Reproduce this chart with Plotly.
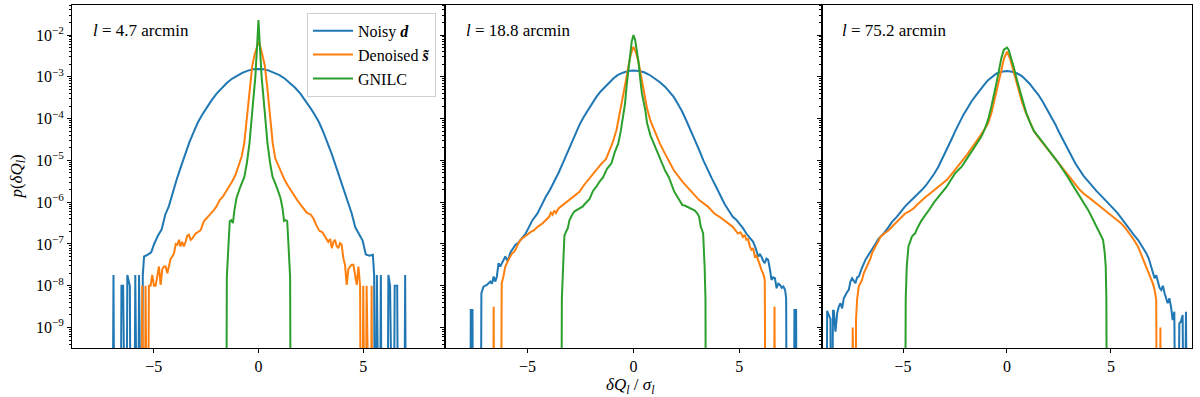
import plotly.graph_objects as go

# Values: x = dQ/sigma, logp = log10 p(dQ). None = empty bin.

PANEL_LABELS = ["4.7", "18.8", "75.2"]
SERIES_NAMES = ["Noisy <b><i>d</i></b>", "Denoised <b><i>s\u0303</i></b>", "GNILC"]
COLORS = ["#1f77b4", "#ff7f0e", "#2ca02c"]

# ---- l = 4.7 arcmin ----
p1_noisy_x = [-6.98, -6.92, -6.86, -6.60, -6.54, -6.46, -6.40, -6.32, -6.26, -6.14, -6.08,
              -5.94, -5.88, -5.82, -5.76, -5.70, -5.64, -5.58, -5.52, -5.46, -5.3, -5.12,
              -4.98, -4.8, -4.62, -4.45, -4.28, -4.12, -3.9, -3.7, -3.5, -3.3, -3.1, -2.9,
              -2.7, -2.5, -2.25, -2.0, -1.75, -1.5, -1.25, -1.0, -0.75, -0.5, -0.25, 0.0,
              0.25, 0.5, 0.75, 1.0, 1.25, 1.5, 1.75, 2.0, 2.25, 2.5, 2.7, 2.9, 3.1, 3.3,
              3.5, 3.7, 3.9, 4.1, 4.28, 4.45, 4.62, 4.8, 4.97, 5.12, 5.3, 5.46, 5.52, 5.56,
              5.60, 5.65, 5.71, 5.78, 5.84, 5.90, 6.14, 6.2, 6.28, 6.34, 6.44, 6.5, 6.62,
              6.68, 6.94, 7.0, 7.06]
p1_noisy_logp = [None, -7.74, None, None, -8.0, -8.0, None, None, -7.74, -8.0, None,
                 None, -7.74, None, None, -7.74, None, None, -7.74, -7.3, -7.26, -7.2,
                 -7.0, -6.8, -6.65, -6.3, -6.1, -5.8, -5.45, -5.15, -4.85, -4.57, -4.33, -4.1,
                 -3.92, -3.76, -3.57, -3.4, -3.26, -3.14, -3.04, -2.96, -2.9, -2.85, -2.82, -2.81,
                 -2.82, -2.85, -2.9, -2.96, -3.04, -3.14, -3.26, -3.4, -3.57, -3.76, -3.92, -4.1,
                 -4.33, -4.57, -4.85, -5.15, -5.45, -5.78, -6.05, -6.27, -6.6, -6.75, -6.92,
                 -7.25, -7.28, -7.26, -7.74, None,
                 None, -7.74, None, None, -7.74, None, None, -7.74, -8.0, None, None, -8.0,
                 -8.0, None, None, -7.74, None]

p1_denoised_x = [-5.60, -5.55, -5.50, -5.44, -5.39, -5.34, -5.29, -5.23, -5.15, -5.07, -4.99,
                 -4.91, -4.83, -4.75, -4.67, -4.59, -4.51, -4.43, -4.35, -4.27, -4.19, -4.11,
                 -4.03, -3.95, -3.87, -3.79, -3.72, -3.64, -3.56, -3.48, -3.4, -3.32, -3.24,
                 -3.16, -3.0, -2.9, -2.76, -2.6, -2.45, -2.3, -2.15, -2.0, -1.85, -1.7, -1.55,
                 -1.4, -1.25, -1.1, -0.92, -0.8, -0.68, -0.6, -0.52, -0.42, -0.3, -0.2, -0.1,
                 0.0, 0.1, 0.2, 0.3, 0.42, 0.52, 0.6, 0.68, 0.8, 0.92, 1.1, 1.25, 1.4, 1.55,
                 1.7, 1.85, 2.0, 2.15, 2.3, 2.5, 2.62, 2.76, 2.9, 3.05, 3.2, 3.33, 3.42, 3.5,
                 3.58, 3.65, 3.73, 3.81, 3.89, 3.97, 4.05, 4.13, 4.21, 4.29, 4.37, 4.45, 4.53,
                 4.61, 4.69, 4.77, 4.85, 4.9, 4.95, 5.0, 5.05, 5.11, 5.16, 5.21, 5.35, 5.4, 5.45]
p1_denoised_logp = [None, -8.0, None, None, -8.0, None, None, -8.0, -8.0, -7.74, -8.0,
                    -8.0, -7.74, -7.54, -7.98, -7.6, -7.54, -7.54, -7.7, -7.5, -7.35, -7.3,
                    -7.22, -7.0, -7.02, -6.9, -7.06, -6.95, -7.06, -6.95, -6.8, -6.78, -6.9,
                    -6.87, -6.75, -6.72, -6.67, -6.45, -6.37, -6.3, -6.2, -6.1, -5.95, -5.87,
                    -5.75, -5.62, -5.5, -5.35, -5.1, -4.9, -4.59, -4.2, -3.79, -3.3, -2.75,
                    -2.5, -2.3, -2.16, -2.3, -2.5, -2.72, -3.25, -3.79, -4.2, -4.59, -4.95,
                    -5.1, -5.32, -5.47, -5.6, -5.72, -5.85, -5.95, -6.05, -6.15, -6.25, -6.3,
                    -6.39, -6.55, -6.68, -6.72, -6.85, -6.95, -6.88, -7.1, -6.95, -6.9, -7.05,
                    -7.1, -6.98, -7.02, -7.34, -7.5, -7.98, -7.6, -7.54, -7.5, -7.5, -7.7,
                    -7.98, -7.54, -8.0, None, None, -8.0, None, None, -8.0, None, None, -8.0,
                    None]

p1_gnilc_x = [-1.55, -1.51, -1.43, -1.37, -1.3, -1.22, -1.15, -1.05, -0.88, -0.67, -0.55,
              -0.43, -0.29, -0.15, -0.06, 0.0, 0.06, 0.15, 0.29, 0.43, 0.55, 0.67, 0.88,
              1.05, 1.15, 1.22, 1.3, 1.37, 1.43, 1.51, 1.55]
p1_gnilc_logp = [None, -7.8, -7.0, -6.45, -6.43, -6.5, -6.2, -5.9, -5.65, -5.39, -5.05,
                 -4.59, -3.79, -3.0, -2.2, -1.64, -2.2, -3.0, -3.79, -4.59, -5.05, -5.39,
                 -5.65, -5.9, -6.15, -6.45, -6.43, -6.45, -7.0, -7.8, None]

# ---- l = 18.8 arcmin ----
p2_noisy_x = [-7.72, -7.68, -7.60, -7.56, -7.22, -7.18, -7.08, -6.92, -6.76, -6.68, -6.6,
              -6.52, -6.45, -6.37, -6.29, -6.21, -6.13, -6.05, -5.97, -5.89, -5.81, -5.73,
              -5.57, -5.45, -5.33, -5.2, -5.09, -4.93, -4.77, -4.53, -4.3, -4.14, -3.94,
              -3.74, -3.54, -3.34, -3.14, -2.94, -2.75, -2.55, -2.35, -2.15, -1.95, -1.75,
              -1.55, -1.35, -1.15, -0.95, -0.75, -0.5, -0.25, 0.0, 0.25, 0.5, 0.75, 1.0,
              1.25, 1.5, 1.7, 1.9, 2.1, 2.3, 2.5, 2.7, 2.9, 3.1, 3.3, 3.5, 3.7, 3.9, 4.1,
              4.29, 4.5, 4.69, 4.85, 5.01, 5.17, 5.33, 5.49, 5.65, 5.77, 5.89, 5.97, 6.04,
              6.12, 6.2, 6.28, 6.36, 6.44, 6.52, 6.6, 6.68, 6.76, 6.84, 6.92, 7.0, 7.08,
              7.16, 7.21, 7.25, 7.56, 7.6, 7.68, 7.72]
p2_noisy_logp = [None, -8.58, -8.58, None, None, -8.18, -8.02, -7.98, -7.9, -7.95, -7.78,
                 -7.9, -7.78, -7.46, -7.54, -7.45, -7.38, -7.3, -7.38, -7.34, -7.2, -7.14,
                 -7.02, -6.98, -6.9, -6.82, -6.75, -6.59, -6.43, -6.27, -6.03, -5.87, -5.7,
                 -5.51, -5.3, -5.07, -4.83, -4.59, -4.37, -4.15, -3.96, -3.79, -3.63, -3.48,
                 -3.35, -3.24, -3.13, -3.04, -2.96, -2.9, -2.86, -2.85, -2.86, -2.89, -2.95,
                 -3.03, -3.13, -3.24, -3.35, -3.48, -3.65, -3.83, -4.05, -4.27, -4.5, -4.75,
                 -5.0, -5.23, -5.43, -5.63, -5.84, -6.03, -6.2, -6.35, -6.42, -6.51, -6.62,
                 -6.75, -6.85, -6.95, -7.1, -7.3, -7.25, -7.3, -7.4, -7.46, -7.35, -7.38,
                 -7.6, -7.86, -7.8, -7.82, -8.06, -7.95, -7.98, -8.05, -8.02, -8.1, -8.3,
                 None, None, -8.58, -8.58, None]

p2_denoised_x = [-6.64, -6.6, -6.56, -6.27, -6.22, -6.14, -6.05, -5.97, -5.89, -5.81, -5.73,
                 -5.65, -5.57, -5.45, -5.33, -5.21, -5.09, -4.93, -4.81, -4.69, -4.53, -4.3,
                 -4.14, -3.98, -3.9, -3.82, -3.74, -3.66, -3.54, -3.34, -3.14, -2.94, -2.75,
                 -2.55, -2.35, -2.15, -1.95, -1.75, -1.55, -1.3, -1.0, -0.8, -0.64, -0.48,
                 -0.36, -0.24, -0.12, 0.0, 0.12, 0.24, 0.36, 0.48, 0.64, 0.8, 1.0, 1.25, 1.5,
                 1.9, 2.3, 2.7, 3.1, 3.5, 3.82, 4.06, 4.37, 4.69, 4.93, 5.05, 5.17, 5.25,
                 5.33, 5.41, 5.49, 5.57, 5.65, 5.73, 5.81, 5.89, 5.97, 6.04, 6.12, 6.2,
                 6.25, 6.62, 6.66, 6.7]
p2_denoised_logp = [None, -8.5, None, None, -7.94, -7.78, -7.54, -7.45, -7.38, -7.3, -7.22,
                    -7.2, -7.14, -7.0, -6.9, -6.85, -6.8, -6.75, -6.7, -6.67, -6.59, -6.51,
                    -6.43, -6.35, -6.25, -6.3, -6.2, -6.26, -6.15, -6.07, -5.99, -5.91, -5.83,
                    -5.75, -5.6, -5.47, -5.35, -5.23, -5.1, -4.97, -4.6, -4.27, -3.85, -3.5,
                    -3.1, -2.75, -2.45, -2.28, -2.42, -2.65, -2.98, -3.35, -3.75, -4.05, -4.3,
                    -4.6, -4.85, -5.23, -5.5, -5.73, -5.95, -6.1, -6.27, -6.35, -6.47, -6.59,
                    -6.75, -6.72, -6.83, -6.78, -6.9, -6.88, -7.05, -7.14, -7.1, -7.3, -7.28,
                    -7.38, -7.5, -7.62, -7.7, -7.86, None, None, -8.5, None]

p2_gnilc_x = [-3.42, -3.38, -3.32, -3.26, -3.18, -3.1, -3.02, -2.94, -2.86, -2.78, -2.71,
              -2.63, -2.55, -2.47, -2.39, -2.31, -2.23, -2.07, -1.91, -1.75, -1.59, -1.43,
              -1.25, -1.04, -0.88, -0.72, -0.6, -0.48, -0.4, -0.32, -0.24, -0.16, -0.08,
              0.0, 0.08, 0.16, 0.24, 0.32, 0.4, 0.56, 0.64, 0.8, 0.96, 1.1, 1.19, 1.35,
              1.5, 1.67, 1.8, 1.91, 2.05, 2.15, 2.23, 2.31, 2.42, 2.54, 2.66, 2.78, 2.9,
              3.02, 3.1, 3.18, 3.29, 3.36, 3.4, 3.43]
p2_gnilc_logp = [None, -8.3, -7.54, -6.8, -6.7, -6.62, -6.43, -6.33, -6.27, -6.22, -6.2,
                 -6.16, -6.15, -6.12, -6.1, -6.05, -6.0, -5.92, -5.73, -5.63, -5.5, -5.4,
                 -5.2, -5.07, -4.8, -4.6, -4.3, -3.9, -3.65, -3.2, -2.9, -2.5, -2.15,
                 -2.0, -2.12, -2.35, -2.65, -3.05, -3.4, -3.8, -4.1, -4.4, -4.59, -4.75,
                 -4.85, -5.05, -5.25, -5.4, -5.6, -5.73, -5.85, -5.95, -6.0, -6.07, -6.08,
                 -6.11, -6.12, -6.15, -6.2, -6.27, -6.35, -6.59, -6.75, -7.54, -8.3, None]

# ---- l = 75.2 arcmin ----
p3_noisy_x = [-8.69, -8.65, -8.57, -8.49, -8.45, -8.41, -8.37, -8.33, -8.25, -8.17, -8.09,
              -8.01, -7.93, -7.85, -7.77, -7.69, -7.61, -7.53, -7.45, -7.37, -7.29, -7.21,
              -7.13, -7.0, -6.89, -6.81, -6.65, -6.49, -6.33, -6.17, -5.93, -5.69, -5.53,
              -5.3, -5.1, -4.9, -4.7, -4.5, -4.3, -4.1, -3.9, -3.7, -3.5, -3.3, -3.1,
              -2.9, -2.7, -2.5, -2.3, -2.1, -1.9, -1.71, -1.5, -1.31, -1.1, -0.91, -0.7,
              -0.5, -0.25, 0.0, 0.25, 0.5, 0.72, 0.9, 1.1, 1.3, 1.51, 1.7, 1.9, 2.1, 2.31,
              2.5, 2.7, 2.9, 3.11, 3.3, 3.5, 3.7, 3.91, 4.1, 4.3, 4.5, 4.7, 4.9, 5.1, 5.3,
              5.5, 5.7, 5.9, 6.1, 6.3, 6.5, 6.7, 6.82, 6.94, 7.02, 7.1, 7.18, 7.26, 7.34,
              7.42, 7.5, 7.58, 7.66, 7.73, 7.81, 7.89, 7.97, 8.05, 8.13, 8.21, 8.29, 8.37,
              8.45, 8.53, 8.61, 8.69]
p3_noisy_logp = [None, -8.6, -8.7, -8.8, None, None, -8.6, -8.6, -9.1, -8.66, -8.5,
                 -8.42, -8.54, -8.3, -8.22, -8.15, -8.1, -7.9, -7.82, -7.9, -7.94, -7.8,
                 -7.78, -7.6, -7.45, -7.38, -7.25, -7.14, -7.0, -6.87, -6.75, -6.59, -6.47,
                 -6.35, -6.22, -6.1, -6.0, -5.91, -5.82, -5.71, -5.6, -5.47, -5.32, -5.15,
                 -4.95, -4.75, -4.53, -4.31, -4.1, -3.91, -3.75, -3.59, -3.45, -3.32, -3.19,
                 -3.08, -2.99, -2.92, -2.88, -2.86, -2.88, -2.92, -2.98, -3.06, -3.17, -3.3,
                 -3.43, -3.58, -3.75, -3.93, -4.12, -4.32, -4.5, -4.7, -4.9, -5.08, -5.24,
                 -5.38, -5.5, -5.62, -5.73, -5.83, -5.93, -6.05, -6.15, -6.25, -6.38, -6.52,
                 -6.67, -6.78, -6.9, -7.05, -7.22, -7.35, -7.54, -7.7, -7.82, -7.75, -7.9,
                 -8.05, -8.1, -8.0, -8.18, -8.3, -8.42, -8.3, -8.5, -8.82, -8.62, None, None,
                 -8.9, -8.85, -8.7, None, -8.62, None]

p3_denoised_x = [-7.46, -7.42, -7.38, -7.3, -7.26, -7.21, -7.13, -7.05, -6.97, -6.89, -6.81,
                 -6.73, -6.65, -6.57, -6.49, -6.41, -6.33, -6.2, -6.09, -5.9, -5.69, -5.5,
                 -5.3, -5.1, -4.9, -4.7, -4.5, -4.3, -4.1, -3.9, -3.7, -3.5, -3.3, -3.1, -2.9,
                 -2.7, -2.5, -2.3, -2.1, -1.9, -1.71, -1.5, -1.31, -1.1, -0.91, -0.75, -0.62,
                 -0.51, -0.4, -0.27, -0.14, 0.0, 0.14, 0.27, 0.4, 0.55, 0.72, 0.9, 1.12, 1.3,
                 1.51, 1.7, 1.91, 2.1, 2.31, 2.5, 2.71, 2.9, 3.11, 3.3, 3.51, 3.7, 3.91, 4.1,
                 4.3, 4.5, 4.7, 4.9, 5.1, 5.3, 5.5, 5.7, 5.9, 6.1, 6.3, 6.46, 6.62, 6.78,
                 6.94, 7.02, 7.1, 7.18, 7.22, 7.34, 7.38, 7.42]
p3_denoised_logp = [None, -9.0, None, None, -8.8, -8.34, -8.02, -7.95, -7.86, -7.7, -7.62,
                    -7.55, -7.46, -7.35, -7.22, -7.12, -7.06, -6.95, -6.83, -6.75, -6.67,
                    -6.57, -6.47, -6.37, -6.27, -6.22, -6.15, -6.05, -5.95, -5.87, -5.79,
                    -5.71, -5.63, -5.55, -5.47, -5.35, -5.23, -5.11, -4.99, -4.85, -4.71,
                    -4.57, -4.43, -4.27, -4.11, -3.87, -3.6, -3.4, -3.1, -2.84, -2.55, -2.4,
                    -2.55, -2.8, -2.98, -3.3, -3.6, -3.85, -4.08, -4.3, -4.45, -4.57, -4.7,
                    -4.82, -4.95, -5.07, -5.2, -5.33, -5.47, -5.59, -5.71, -5.8, -5.87, -5.95,
                    -6.03, -6.11, -6.19, -6.27, -6.35, -6.43, -6.51, -6.62, -6.75, -6.9,
                    -7.06, -7.25, -7.46, -7.65, -7.86, -7.95, -8.1, -8.34, None, None, -9.0,
                    None]

p3_gnilc_x = [-4.92, -4.87, -4.82, -4.77, -4.74, -4.66, -4.58, -4.5, -4.42, -4.34, -4.26,
              -4.18, -4.1, -3.9, -3.7, -3.5, -3.3, -3.1, -2.9, -2.7, -2.5, -2.34, -2.18,
              -2.02, -1.87, -1.71, -1.55, -1.39, -1.23, -1.07, -0.91, -0.75, -0.63, -0.51,
              -0.39, -0.27, -0.15, -0.05, 0.0, 0.08, 0.2, 0.32, 0.52, 0.72, 0.92, 1.12, 1.3,
              1.51, 1.7, 1.91, 2.1, 2.31, 2.5, 2.71, 2.9, 3.11, 3.3, 3.51, 3.7, 3.91, 4.07,
              4.23, 4.35, 4.46, 4.54, 4.62, 4.7, 4.75, 4.78, 4.82]
p3_gnilc_logp = [None, -8.3, -7.54, -7.1, -7.06, -6.95, -6.83, -6.78, -6.75, -6.65, -6.59,
                 -6.5, -6.43, -6.3, -6.15, -6.0, -5.87, -5.75, -5.63, -5.47, -5.31, -5.23,
                 -5.15, -5.03, -4.91, -4.8, -4.67, -4.55, -4.43, -4.25, -4.03, -3.71, -3.45,
                 -3.16, -2.85, -2.55, -2.35, -2.3, -2.3, -2.35, -2.55, -2.76, -3.15, -3.48,
                 -3.85, -4.11, -4.3, -4.43, -4.55, -4.67, -4.8, -4.95, -5.08, -5.23, -5.38,
                 -5.55, -5.7, -5.87, -6.03, -6.19, -6.35, -6.51, -6.62, -6.75, -6.82, -6.9,
                 -7.2, -7.54, -8.3, None]

PANELS = [
    [(p1_noisy_x, p1_noisy_logp), (p1_denoised_x, p1_denoised_logp), (p1_gnilc_x, p1_gnilc_logp)],
    [(p2_noisy_x, p2_noisy_logp), (p2_denoised_x, p2_denoised_logp), (p2_gnilc_x, p2_gnilc_logp)],
    [(p3_noisy_x, p3_noisy_logp), (p3_denoised_x, p3_denoised_logp), (p3_gnilc_x, p3_gnilc_logp)],
]

FONT = "Liberation Serif, DejaVu Serif, serif"
EMPTY_BIN = 1e-14  # empty bins drop off the bottom of the log axis, as in matplotlib

fig = go.Figure()
domains = [[0.0, 0.333], [0.333, 0.6696], [0.6696, 1.0]]

for i, curves in enumerate(PANELS):
    ax = "" if i == 0 else str(i + 1)
    for j, (xs, logp) in enumerate(curves):
        ys = [EMPTY_BIN if v is None else 10 ** v for v in logp]
        fig.add_trace(go.Scatter(
            x=xs, y=ys, mode="lines", name=SERIES_NAMES[j],
            line=dict(color=COLORS[j], width=2),
            showlegend=(i == 0),
            xaxis="x" + ax, yaxis="y" + ax,
        ))

major = [10.0 ** k for k in range(-9, -1)]
major_text = ["10<sup>\u2212%d</sup>" % k for k in range(9, 1, -1)]
minor = [m * 10.0 ** k for k in range(-10, -1) for m in range(2, 10)]

layout = dict(
    width=1200, height=397,
    margin=dict(l=72, r=8, t=5, b=49),
    plot_bgcolor="white", paper_bgcolor="white",
    font=dict(family=FONT, size=16, color="black"),
    legend=dict(
        x=0.325, y=0.977, xanchor="right", yanchor="top",
        bordercolor="#d0d0d0", borderwidth=1, bgcolor="rgba(255,255,255,0.8)",
        font=dict(family=FONT, size=16), tracegroupgap=0, itemwidth=40,
    ),
    showlegend=True,
)

for i in range(3):
    ax = "" if i == 0 else str(i + 1)
    layout["xaxis" + ax] = dict(
        domain=domains[i], range=[-8.9, 8.9], anchor="y" + ax,
        tickvals=[-5, 0, 5], ticktext=["\u22125", "0", "5"],
        ticks="outside", ticklen=4, tickcolor="black", automargin=False,
        showline=True, mirror=True, linecolor="black", linewidth=1,
        showgrid=False, zeroline=False,
    )
    layout["yaxis" + ax] = dict(
        type="log", range=[-9.49, -1.28], anchor="x" + ax, automargin=False,
        tickvals=major, ticktext=major_text, showticklabels=(i == 0),
        ticks="outside", ticklen=4, tickcolor="black",
        minor=dict(tickvals=minor, ticks="outside", ticklen=2, tickcolor="black"),
        showline=True, mirror=True, linecolor="black", linewidth=1,
        showgrid=False, zeroline=False,
    )

fig.update_layout(**layout)

for i, lab in enumerate(PANEL_LABELS):
    ax = "" if i == 0 else str(i + 1)
    fig.add_annotation(
        x=0.05, y=0.927, xref="x%s domain" % ax, yref="y%s domain" % ax,
        xanchor="left", yanchor="middle", showarrow=False,
        text="<i>l</i> = %s arcmin" % lab, font=dict(family=FONT, size=17),
    )

fig.add_annotation(
    x=-0.049, y=0.5, xref="paper", yref="paper", textangle=-90,
    xanchor="center", yanchor="middle", showarrow=False,
    text="<i>p</i>(<i>\u03b4Q<sub>l</sub></i>)", font=dict(family=FONT, size=17),
)
fig.add_annotation(
    x=0.499, y=-0.112, xref="paper", yref="paper",
    xanchor="center", yanchor="middle", showarrow=False,
    text="<i>\u03b4Q<sub>l</sub></i> / <i>\u03c3<sub>l</sub></i>", font=dict(family=FONT, size=17),
)

# page body has an 8px default margin; drop it so the figure sits at the window origin
fig.write_html("out.html", config={"displayModeBar": False},
               post_script="document.body.style.margin='0';")
